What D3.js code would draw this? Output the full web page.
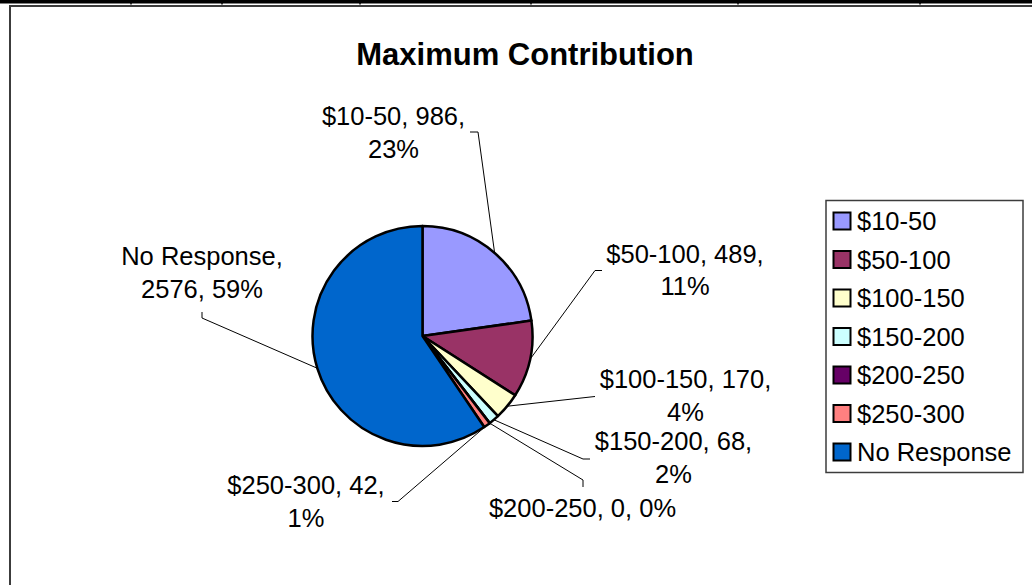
<!DOCTYPE html>
<html>
<head>
<meta charset="utf-8">
<script src="https://cdn.jsdelivr.net/npm/d3@7"></script>
<style>
    body { margin: 0; background: #fff; }
    text { font-family: Arial, "Liberation Sans", sans-serif; fill: #000; }
</style>
</head>
<body>
<div id="chart"></div>
<script>
// data
var categories = ["$10-50", "$50-100", "$100-150", "$150-200", "$200-250", "$250-300", "No Response"]
var values = [986, 489, 170, 68, 0, 42, 2576]
var sliceColors = ["#9999ff", "#993366", "#ffffcc", "#ccffff", "#660066", "#ff8080", "#0066cc"]
var title = "Maximum Contribution"

// where each data label sits (text centre, first baseline), how many of its
// three parts go on the first line, and the leader elbow
var labelLayout = [
    { x: 393.5, y: 125, first: 2, elbow: [[470, 132], [478, 132]] },
    { x: 685, y: 262.5, first: 2, elbow: [[602, 270.5], [595, 270.5]] },
    { x: 685.5, y: 388, first: 2, elbow: [[595, 396.5], [594, 396.6]] },
    { x: 673.5, y: 450, first: 2, elbow: [[590, 459], [583, 459]] },
    { x: 582.5, y: 516.5, first: 3, elbow: [[583, 487], [583, 480]] },
    { x: 306, y: 494, first: 2, elbow: [[392, 501.5], [398, 501.5]] },
    { x: 202, y: 265, first: 1, elbow: [[202, 312], [202, 318]] }
]

var width = 1032, height = 585
var cx = 422.5, cy = 336, radius = 110
var lineGap = 32.5

var svg = d3.select("#chart").append("svg")
    .attr("width", width)
    .attr("height", height)

// spreadsheet strip above the chart
svg.append("rect")
    .attr("x", 0).attr("y", 0)
    .attr("width", width).attr("height", 3.5)
    .attr("fill", "#000")
var gridX = [131, 222, 360, 531, 738, 920]
svg.selectAll(".gridtick")
    .data(gridX)
    .enter().append("line")
    .attr("class", "gridtick")
    .attr("x1", d => d).attr("x2", d => d)
    .attr("y1", 0).attr("y2", 4.5)
    .attr("stroke", "#000")
    .attr("stroke-width", 1.5)

// chart area frame (runs off to the right and bottom)
svg.append("path")
    .attr("d", "M" + (width + 5) + ",6 H10 V" + (height + 5))
    .attr("fill", "none")
    .attr("stroke", "#3c3c3c")
    .attr("stroke-width", 2)

svg.append("text")
    .attr("x", 525)
    .attr("y", 65)
    .attr("text-anchor", "middle")
    .style("font-size", "31px")
    .style("font-weight", "bold")
    .text(title)

var total = d3.sum(values)
var pieData = d3.pie().sort(null)(values)
var arc = d3.arc().innerRadius(0).outerRadius(radius)

var color = d3.scaleOrdinal().domain(categories).range(sliceColors)

var g = svg.append("g")
    .attr("transform", "translate(" + cx + "," + cy + ")")

g.selectAll("path")
    .data(pieData)
    .enter().append("path")
    .attr("d", arc)
    .attr("fill", (d, i) => color(categories[i]))
    .attr("stroke", "#000")
    .attr("stroke-width", 2.5)
    .attr("stroke-linejoin", "round")

// leader lines: from the label elbow to the rim at the slice's mid angle
var leaders = svg.append("g")
pieData.forEach(function(d, i) {
    var a = (d.startAngle + d.endAngle) / 2
    var rim = [cx + radius * Math.sin(a), cy - radius * Math.cos(a)]
    var pts = labelLayout[i].elbow.concat([rim])
    leaders.append("path")
        .attr("d", d3.line()(pts))
        .attr("fill", "none")
        .attr("stroke", "#000")
        .attr("stroke-width", 1)
})

var labels = svg.append("g")
    .style("font-size", "25.5px")
categories.forEach(function(c, i) {
    var pct = Math.round(values[i] / total * 100) + "%"
    var lay = labelLayout[i]
    var parts = [c, String(values[i]), pct]
    var lines = [parts.slice(0, lay.first).join(", ")]
    if (lay.first < parts.length) {
        lines[0] += ","
        lines.push(parts.slice(lay.first).join(", "))
    }
    var t = labels.append("text")
        .attr("text-anchor", "middle")
    lines.forEach(function(s, k) {
        t.append("tspan")
            .attr("x", lay.x)
            .attr("y", lay.y + k * lineGap)
            .text(s)
    })
})

// legend
var legend = svg.append("g")
legend.append("rect")
    .attr("x", 826).attr("y", 200.5)
    .attr("width", 197).attr("height", 272)
    .attr("fill", "#fff")
    .attr("stroke", "#3c3c3c")
    .attr("stroke-width", 1.5)

var rowY = d3.scalePoint()
    .domain(categories)
    .range([221, 452])

var item = legend.selectAll(".item")
    .data(categories)
    .enter().append("g")
    .attr("class", "item")
    .attr("transform", d => "translate(0," + rowY(d) + ")")

item.append("rect")
    .attr("x", 833.5).attr("y", -8.5)
    .attr("width", 17).attr("height", 17)
    .attr("fill", d => color(d))
    .attr("stroke", "#000")
    .attr("stroke-width", 2)

item.append("text")
    .attr("x", 857)
    .attr("y", 9)
    .style("font-size", "25.5px")
    .text(d => d)
</script>
</body>
</html>
